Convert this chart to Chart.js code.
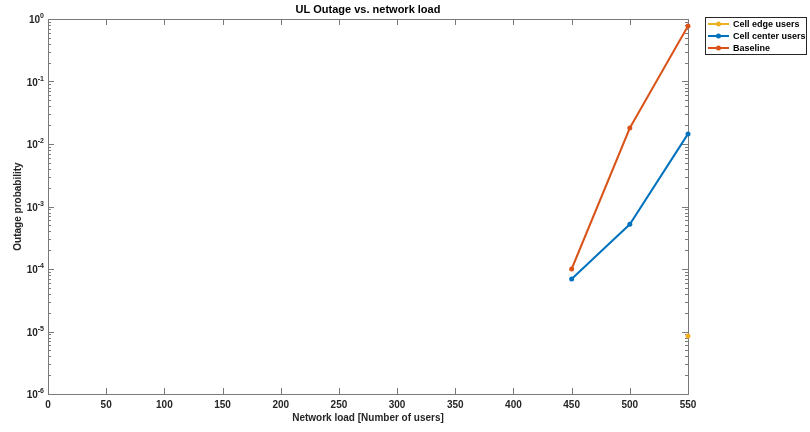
<!DOCTYPE html>
<html>
<head>
<meta charset="utf-8">
<script src="https://cdn.jsdelivr.net/npm/chart.js@4/dist/chart.umd.min.js"></script>
<style>
  html, body { margin: 0; padding: 0; background: #fff; }
  #wrap { width: 810px; height: 432px; }
</style>
</head>
<body>
<div id="wrap"><canvas id="outageChart" width="810" height="432"></canvas></div>
<script>
const users = [450, 500, 550];
const cellEdge = [null, null, 8.5e-6];
const cellCenter = [6.9e-5, 5.2e-4, 1.45e-2];
const baseline = [1.0e-4, 1.8e-2, 0.77];
const xTicks = [0, 50, 100, 150, 200, 250, 300, 350, 400, 450, 500, 550];
const yDecades = [-6, -5, -4, -3, -2, -1, 0];

const seriesNames = ['Cell edge users', 'Cell center users', 'Baseline'];
const seriesColors = ['#EDB120', '#0072BD', '#D95319'];

const FONT = 'Liberation Sans, Arial, Helvetica, sans-serif';
const AXIS = '#7a7a7a';
const TEXT = '#262626';

function toPoints(arr) {
    return users.map((x, i) => ({ x: x, y: arr[i] }));
}

// matlab style box + inward ticks under the data, text + legend on top
const matlabAxes = {
    id: 'matlabAxes',
    beforeDatasetsDraw(chart) {
        const c = chart.ctx;
        const a = chart.chartArea;
        const xs = chart.scales.x;
        const ys = chart.scales.y;
        c.save();
        c.strokeStyle = AXIS;
        c.lineWidth = 1;
        c.strokeRect(a.left + 0.5, a.top + 0.5, a.right - a.left, a.bottom - a.top);

        c.beginPath();
        xTicks.forEach(v => {
            const px = Math.round(xs.getPixelForValue(v)) + 0.5;
            c.moveTo(px, a.bottom); c.lineTo(px, a.bottom - 6);
            c.moveTo(px, a.top); c.lineTo(px, a.top + 6);
        });
        yDecades.forEach(d => {
            const py = Math.round(ys.getPixelForValue(Math.pow(10, d))) + 0.5;
            c.moveTo(a.left, py); c.lineTo(a.left + 6, py);
            c.moveTo(a.right, py); c.lineTo(a.right - 6, py);
            if (d < 0) {
                for (let m = 2; m <= 9; m++) {
                    const pm = Math.round(ys.getPixelForValue(m * Math.pow(10, d))) + 0.5;
                    c.moveTo(a.left, pm); c.lineTo(a.left + 3, pm);
                    c.moveTo(a.right, pm); c.lineTo(a.right - 3, pm);
                }
            }
        });
        c.stroke();
        c.restore();
    },
    afterDraw(chart) {
        const c = chart.ctx;
        const a = chart.chartArea;
        const xs = chart.scales.x;
        const ys = chart.scales.y;
        c.save();

        // x tick labels
        c.fillStyle = TEXT;
        c.font = 'bold 10px ' + FONT;
        c.textAlign = 'center';
        c.textBaseline = 'top';
        xTicks.forEach(v => {
            c.fillText(String(v), xs.getPixelForValue(v), a.bottom + 6);
        });

        // y tick labels 10^n
        yDecades.forEach(d => {
            const py = ys.getPixelForValue(Math.pow(10, d));
            const exp = String(d);
            c.font = 'bold 7px ' + FONT;
            const ew = c.measureText(exp).width;
            c.textAlign = 'left';
            c.textBaseline = 'alphabetic';
            const ex = a.left - 4 - ew;
            c.fillText(exp, ex, py - 1);
            c.font = 'bold 10px ' + FONT;
            c.textAlign = 'right';
            c.fillText('10', ex, py + 4);
        });

        // title
        c.font = 'bold 11px ' + FONT;
        c.textAlign = 'center';
        c.textBaseline = 'middle';
        c.fillStyle = '#000';
        c.fillText('UL Outage vs. network load', (a.left + a.right) / 2, 10);

        // axis labels
        c.font = 'bold 10px ' + FONT;
        c.fillStyle = TEXT;
        c.fillText('Network load [Number of users]', (a.left + a.right) / 2, 418);
        c.save();
        c.translate(18, (a.top + a.bottom) / 2);
        c.rotate(-Math.PI / 2);
        c.fillText('Outage probability', 0, 0);
        c.restore();

        // legend
        const lx = 705, ly = 17, lw = 101, lh = 37;
        c.fillStyle = '#fff';
        c.fillRect(lx, ly, lw, lh);
        c.strokeStyle = '#262626';
        c.lineWidth = 1;
        c.strokeRect(lx + 0.5, ly + 0.5, lw, lh);
        seriesNames.forEach((name, i) => {
            const yy = ly + 7 + i * 12;
            c.strokeStyle = seriesColors[i];
            c.lineWidth = 2;
            c.beginPath();
            c.moveTo(lx + 3, yy); c.lineTo(lx + 24, yy);
            c.stroke();
            c.fillStyle = seriesColors[i];
            c.beginPath();
            c.arc(lx + 13.5, yy, 2.5, 0, Math.PI * 2);
            c.fill();
            c.fillStyle = '#000';
            c.font = 'bold 9px ' + FONT;
            c.textAlign = 'left';
            c.textBaseline = 'middle';
            c.fillText(name, lx + 28, yy + 0.5);
        });
        c.restore();
    }
};

const ctx = document.getElementById('outageChart').getContext('2d');
const data = [cellEdge, cellCenter, baseline];

new Chart(ctx, {
    type: 'line',
    data: {
        datasets: seriesNames.map((name, i) => ({
            label: name,
            data: toPoints(data[i]),
            borderColor: seriesColors[i],
            backgroundColor: seriesColors[i],
            borderWidth: 2,
            pointRadius: 2.5,
            pointHoverRadius: 2.5,
            pointBorderWidth: 0,
            spanGaps: false,
            clip: 4
        }))
    },
    options: {
        responsive: false,
        animation: false,
        layout: { padding: { top: 19, right: 122, left: 0, bottom: 0 } },
        plugins: {
            legend: { display: false },
            title: { display: false },
            tooltip: { enabled: false }
        },
        scales: {
            x: {
                type: 'linear',
                min: 0,
                max: 550,
                grid: { display: false, drawTicks: false },
                border: { display: false },
                ticks: { display: false, stepSize: 50 },
                afterFit(scale) { scale.height = 38; }
            },
            y: {
                type: 'logarithmic',
                min: 1e-6,
                max: 1,
                grid: { display: false, drawTicks: false },
                border: { display: false },
                ticks: { display: false },
                afterFit(scale) { scale.width = 48; }
            }
        }
    },
    plugins: [matlabAxes]
});
</script>
</body>
</html>
